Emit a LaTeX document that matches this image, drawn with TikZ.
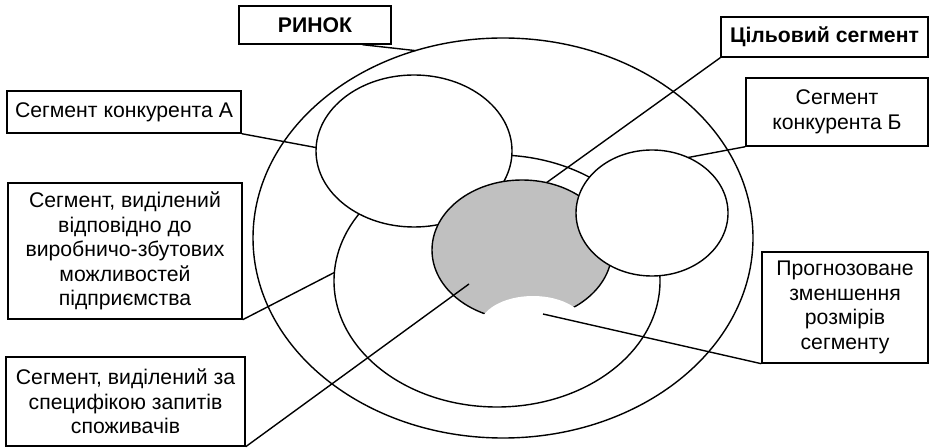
\documentclass[tikz,border=0pt]{standalone}
\usepackage{fontspec}
\setmainfont{Liberation Sans}
\usepackage{xcolor}
\usetikzlibrary{shapes.geometric, calc}
\definecolor{targetgray}{RGB}{192, 192, 192}
\newcommand{\boxfont}{\fontsize{10.6}{12.2}\selectfont}
\tikzset{
    labelbox/.style={rectangle, draw=black, line width=0.7pt, fill=white, align=center, inner sep=0pt, font=\boxfont},
    segment/.style={ellipse, draw=black, line width=0.7pt, inner sep=0pt, outer sep=0pt},
    lead/.style={line width=0.7pt, black}
}

\begin{document}
\begin{tikzpicture}[x=0.5pt, y=-0.5pt]
    \useasboundingbox (0,0) rectangle (930,448);
    % market and its segments
    \node[segment, minimum width=250pt, minimum height=200pt] (market) at (503,238) {};
    \node[segment, minimum width=163pt, minimum height=126pt] (capab) at (497,281) {};
    \node[segment, fill=white, minimum width=98pt, minimum height=76pt] (compa) at (414,151) {};
    \node[segment, fill=targetgray, minimum width=90pt, minimum height=70pt] (target) at (522,250) {};
    \node[segment, fill=white, minimum width=76pt, minimum height=63pt] (compb) at (652,213) {};
    \node[segment, draw=none, fill=white, minimum width=54pt, minimum height=32pt] (shrink) at (533,328) {};

    % labels
    \node[labelbox, font=\boxfont\bfseries, minimum width=76pt, minimum height=19pt] (rynokbox) at (315,25) {РИНОК};
    \node[labelbox, font=\boxfont\bfseries, minimum width=103.5pt, minimum height=20pt] (targetbox) at (824.5,37) {Цільовий сегмент};
    \node[labelbox, minimum width=91pt, minimum height=34pt] (compbbox) at (837,112) {Сегмент\\конкурента Б};
    \node[labelbox, minimum width=83pt, minimum height=55.5pt] (shrinkbox) at (845,307.5) {Прогнозоване\\зменшення\\розмірів\\сегменту};
    \node[labelbox, minimum width=117pt, minimum height=21pt] (compabox) at (124,112) {Сегмент конкурента А};
    \node[labelbox, minimum width=117pt, minimum height=68pt] (capabbox) at (125,251) {Сегмент, виділений\\відповідно до\\виробничо-збутових\\можливостей\\підприємства};
    \node[labelbox, minimum width=119.5pt, minimum height=44.5pt] (needsbox) at (125.5,401.5) {Сегмент, виділений за\\специфікою запитів\\споживачів};

    \coordinate (shrinkpt) at (543,314);
    \coordinate (needspt) at (469,284);

    % leaders
    \draw[lead] ($(rynokbox.south west)!0.81!(rynokbox.south east)$)--(market.115);
    \draw[lead] (targetbox.south west)--(target.70);
    \draw[lead] (compbbox.south west)--(compb.57);
    \draw[lead] (shrinkbox.south west)--(shrinkpt);
    \draw[lead] (compabox.south east)--(compa.178);
    \draw[lead] (capabbox.south east)--(capab.177);
    \draw[lead] (needsbox.south east)--(needspt);
\end{tikzpicture}
\end{document}
